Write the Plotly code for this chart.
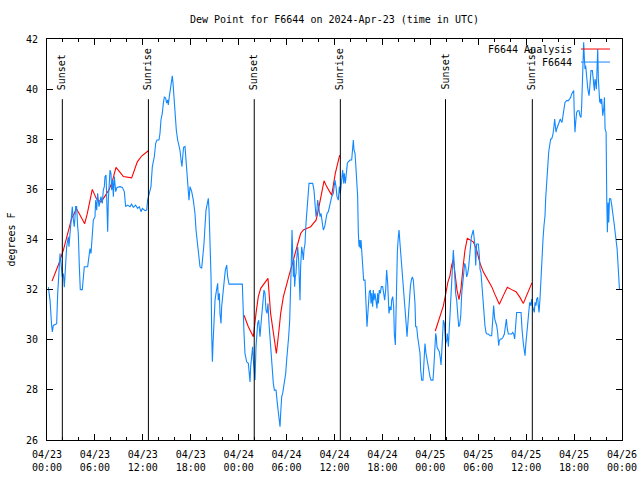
import pandas as pd
import plotly.graph_objects as go

BASE = pd.Timestamp("2024-04-23 00:00")

# ---- observed dew point F6644 (hours since 04/23 00:00 UTC, degrees F) ----
obs_hours_1 = [0.17,0.38,0.58,0.67,0.79,1.21,1.34,1.50,1.63,1.75,1.92,2.05,2.17,2.34,2.46,2.67,2.75,2.88,3.01,3.17,
               3.30,3.42,3.59,3.71,3.84,3.92,4.05,4.17,4.42,4.55,4.67,5.09,5.26,5.38,5.51,5.68,5.80,6.01,6.09,6.22,
               6.34,6.51,6.64,6.76,6.93,7.05,7.18,7.26,7.39,7.51,7.60,7.68,7.76,7.89,8.01,8.10,8.22,8.31,8.43,8.60,
               8.76,9.14,9.43,9.68,9.85,10.10,10.39,10.60,10.81,11.10,11.35,11.56,11.77,11.94,12.27,12.48,12.60,12.77,13.02,13.19,
               13.44,13.61,13.77,14.02,14.15,14.27,14.44,14.57,14.69,14.86,14.98,15.11,15.19,15.32,15.44,15.53,15.61,15.69,15.78,15.86,
               16.03,16.19,16.36,16.53,16.65,16.78,16.90,17.03,17.11,17.28,17.40,17.49,17.61,17.70,17.78]
obs_vals_1 = [32.10,31.57,30.57,30.31,30.57,30.64,31.84,32.64,33.44,33.04,32.51,32.64,32.10,33.04,33.71,34.11,33.71,34.24,34.91,35.31,
              34.77,34.51,35.31,35.31,34.51,34.24,32.91,32.00,32.00,32.64,32.91,32.91,33.44,33.64,33.44,34.11,34.77,34.91,35.57,35.17,
              35.84,35.31,35.57,35.71,35.44,35.97,36.11,36.51,36.57,35.04,34.31,35.57,36.37,36.77,36.64,35.97,36.37,35.71,36.51,35.91,
              36.08,36.11,36.08,35.91,35.31,35.37,35.31,35.41,35.28,35.37,35.24,35.31,35.11,35.24,35.15,35.17,35.57,35.77,36.11,36.91,
              37.31,37.84,37.97,37.97,38.24,38.77,39.04,39.44,39.68,39.64,39.44,39.57,39.37,39.71,39.97,40.11,40.37,40.53,40.24,39.84,
              39.04,38.37,37.97,37.71,37.57,37.17,36.91,37.44,37.68,37.71,37.17,36.51,36.11,35.71,35.57]

obs_hours_2 = [17.91,18.12,18.32,18.53,18.66,18.82,18.95,19.16,19.37,19.49,19.66,19.78,19.91,20.08,20.20,20.29,20.41,20.54,20.62,20.71,
               20.79,20.91,21.04,21.16,21.25,21.37,21.45,21.58,21.66,21.79,21.87,21.99,22.08,22.20,22.33,22.50,22.62,22.79,24.46,24.50,
               24.67,24.79,25.00,25.21,25.34,25.42,25.50,25.63,25.75,25.84,25.92,26.05,26.17,26.25,26.38,26.51,26.59,26.67,26.80,26.92,
               27.01,27.17,27.30,27.42,27.55,27.67,27.80,27.92,28.05,28.17,28.34,28.47,28.68,28.84,28.97,29.09,29.18,29.26,29.39,29.51,
               29.64,29.76,29.89,30.01,30.14,30.26,30.39,30.51,30.60,30.68,30.76,30.85,30.93,31.01,31.09,31.18,31.26,31.39,31.51,31.60,
               31.68,31.76,31.89,32.01,32.10,32.18,32.31,32.43,32.56,32.68,32.81,33.02,33.27,33.43,33.56,33.69,33.77,33.89,34.02,34.19,
               34.31,34.44,34.60,34.77,34.94,35.06,35.23,35.36,35.48,35.65,35.85]
obs_vals_2 = [36.11,35.91,35.57,35.04,34.38,33.84,33.45,32.91,32.85,33.18,33.84,34.51,35.17,35.44,35.64,35.17,34.11,32.51,30.25,29.12,
              29.85,30.92,31.58,31.85,32.12,32.25,31.58,31.85,31.05,30.65,31.32,31.85,31.98,32.38,32.78,32.98,32.51,32.22,32.22,31.58,
              30.25,29.45,29.12,29.06,28.59,28.32,28.92,29.32,29.72,29.19,28.79,28.39,29.72,30.12,30.65,30.78,30.12,30.12,30.65,31.18,
              31.58,31.98,31.85,31.18,31.05,31.45,30.65,30.12,29.59,28.79,28.26,27.99,27.99,27.46,27.06,26.79,26.53,27.06,27.73,27.86,
              28.12,28.39,28.66,29.19,29.59,30.12,30.78,31.85,33.18,34.38,33.45,32.51,33.18,32.12,32.51,32.65,33.18,33.71,33.18,32.38,
              31.58,32.91,33.71,33.45,33.18,33.58,33.84,34.64,35.31,35.71,36.24,36.24,36.24,35.97,35.31,34.91,35.04,35.57,35.31,34.91,
              35.04,34.77,34.38,34.51,34.77,35.04,35.11,35.31,35.57,35.71,35.84]

obs_hours_3 = [36.06,36.19,36.31,36.48,36.61,36.73,36.81,36.90,37.02,37.15,37.23,37.36,37.48,37.61,37.73,37.94,38.15,38.27,38.36,38.44,
               38.57,38.65,38.77,38.90,38.98,39.07,39.15,39.23,39.32,39.40,39.53,39.65,39.82,39.94,40.07,40.15,40.24,40.36,40.49,40.57,
               40.65,40.78,40.86,40.95,41.07,41.20,41.32,41.40,41.49,41.61,41.74,41.86,42.03,42.16,42.28,42.41,42.53,42.66,42.74,42.82,
               42.95,43.08,43.16,43.29,43.41,43.49,43.62,43.70,43.78,43.87,43.99,44.08,44.20,44.33,44.45,44.58,44.70,44.83,44.91,45.00,
               45.08,45.16,45.25,45.37,45.50,45.62,45.75,45.87,45.96,46.08,46.16,46.29,46.41,46.58,46.71,46.79,46.92,47.08,47.17,47.25,
               47.33,47.46,47.58,47.71,47.83,47.96,48.08,48.33,48.42,48.50,48.58,48.67,48.75,48.83,49.00,49.13,49.25,49.34,49.42,49.50,
               49.63,49.75,49.84,49.92,50.05,50.13,50.26,50.34,50.46,50.55,50.67,50.76,50.88,50.96,51.05,51.17,51.30,51.42,51.55,51.67,
               51.80,51.93,52.05,52.18,52.30,52.43,52.55,52.68,52.80,52.93,53.01,53.14,53.26,53.38]
obs_vals_3 = [36.37,36.11,35.71,35.57,36.11,35.84,36.11,36.50,36.77,36.24,36.64,36.24,36.64,37.04,37.10,37.17,37.17,37.70,37.97,37.57,
              37.44,37.04,36.50,35.71,34.31,33.71,33.98,33.64,33.98,33.45,32.78,32.38,32.38,31.58,30.52,30.92,31.58,31.92,31.98,31.45,
              31.85,31.32,31.98,31.58,31.85,31.58,31.25,31.85,31.45,31.98,31.85,32.12,32.12,31.85,31.58,31.98,32.78,32.25,31.58,31.05,
              31.32,31.18,31.58,31.72,31.32,30.25,29.79,31.32,32.51,33.51,34.11,34.38,33.84,33.31,32.78,32.25,31.98,31.58,31.18,30.52,
              30.12,30.52,31.05,31.58,32.12,32.38,32.51,32.38,31.98,31.45,30.52,30.52,30.12,29.72,29.45,28.79,28.39,28.39,28.79,29.45,
              29.85,29.45,29.19,28.99,28.79,28.52,28.39,28.39,28.79,29.45,29.85,30.25,30.12,29.72,29.59,29.52,29.26,28.99,29.45,29.99,
              30.78,30.65,30.25,29.85,29.99,30.25,29.72,30.25,30.78,31.85,32.65,33.18,33.58,33.18,32.38,31.85,31.58,31.05,30.52,30.59,
              30.92,31.85,32.38,32.65,33.05,32.91,32.51,32.65,32.91,33.45,33.71,34.11,34.24,34.38]

obs_hours_4 = [53.59,53.68,53.80,54.01,54.14,54.22,54.34,54.47,54.59,54.72,54.84,54.97,55.09,55.26,55.47,55.68,55.81,55.93,56.06,56.18,
               56.31,56.43,56.56,56.64,56.77,56.93,57.10,57.27,57.39,57.52,57.64,57.77,57.98,58.18,58.31,58.44,58.56,58.69,58.81,59.02,
               59.36,59.48,59.56,59.65,59.77,59.86,59.94,60.07,60.19,60.32,60.44,60.57,60.69,60.77,60.90,61.02,61.11,61.23,61.31,61.44,
               61.52,61.61,61.73,61.86,61.98,62.11,62.23,62.36,62.44,62.57,62.69,62.82,62.94,63.07,63.19,63.32,63.45,63.57,63.65,63.74,
               63.82,63.95,64.07,64.15,64.28,64.36,64.49,64.61,64.74,64.86,65.07,65.28,65.45,65.57,65.70,65.82,65.95,66.03,66.11,66.20,
               66.32,66.45,66.62,66.74,66.87,66.95,67.04,67.12,67.20,67.29,67.37,67.45,67.54,67.62,67.70,67.79,67.87,67.95,68.04,68.12,
               68.29,68.37,68.46,68.54,68.62,68.71,68.79,68.87,68.96,69.04,69.13,69.21,69.29,69.38,69.46,69.59,69.71,69.80,69.88,70.01,
               70.09,70.17,70.26,70.34,70.43,70.59,70.72,70.84,70.97,71.05,71.14,71.26,71.39,71.51,71.60,71.68]
obs_vals_4 = [33.75,32.96,33.82,33.82,33.35,32.82,32.69,32.02,31.49,30.96,30.56,30.29,30.23,30.23,30.16,30.16,30.96,31.36,30.83,30.69,
              30.56,30.29,29.76,29.96,30.03,30.03,30.10,30.23,30.56,30.83,30.43,30.23,30.23,30.23,30.29,30.23,30.03,30.43,31.09,31.09,
              31.09,30.43,29.96,29.83,29.56,29.36,29.76,30.29,30.83,31.23,31.49,31.36,31.62,31.36,31.23,31.09,31.49,31.36,31.62,31.69,
              31.36,31.09,31.62,32.69,33.49,34.02,34.55,34.95,35.62,36.41,36.95,37.48,37.74,38.01,38.01,38.14,38.41,38.81,38.54,38.28,
              38.41,38.54,38.67,38.67,38.81,38.74,38.67,38.94,39.34,39.47,39.54,39.54,39.61,39.67,39.81,39.87,39.94,38.94,38.28,38.67,
              39.07,39.14,39.14,38.94,38.87,39.34,40.40,41.47,41.87,41.20,40.80,40.94,40.54,40.27,40.07,39.87,39.74,40.00,40.47,40.74,
              40.74,40.40,40.14,39.94,40.40,40.27,40.00,41.60,41.60,40.40,39.74,39.47,39.61,39.41,39.61,38.94,39.21,39.67,38.41,38.28,
              35.62,34.29,35.48,34.68,35.62,35.62,35.35,34.95,34.82,34.55,34.29,34.02,33.62,32.96,32.42,32.02]

# ---- analysis (night-time segments) ----
ana_hours_1 = [0.63,1.42,2.05,2.46,2.80,3.09,3.42,3.67,4.13,4.72,5.05,5.38,5.67,6.20,6.76,7.30,7.80,8.20,8.64,9.10,
               9.56,10.60,10.94,11.31,11.85,12.69]
ana_vals_1 = [32.34,32.98,33.58,34.05,34.51,34.85,35.04,35.24,34.98,34.63,35.04,35.51,36.00,35.62,35.50,35.75,36.00,36.35,36.88,36.70,
              36.51,36.46,36.77,37.10,37.33,37.54]
ana_hours_2 = [24.67,25.21,25.63,25.84,26.17,26.46,26.76,27.17,27.67,28.00,28.26,28.55,28.72,29.05,29.26,29.60,30.01,30.43,30.68,30.93,
               31.18,31.47,31.76,32.10,32.52,33.02,33.35,33.69,33.89,34.19,34.44,34.69,35.02,35.36,35.65,36.10,36.35,36.65]
ana_vals_2 = [30.98,30.52,30.25,30.12,31.05,31.72,32.05,32.25,32.45,31.05,30.39,29.85,29.45,30.39,31.05,31.72,32.25,32.71,32.98,33.31,
              33.58,33.91,34.24,34.38,34.44,34.51,34.64,34.77,35.04,35.57,36.04,36.34,36.11,35.91,35.77,36.64,37.04,37.37]
ana_hours_3 = [48.62,49.00,49.34,49.63,49.92,50.20,50.45,50.67,50.88,51.17,51.34,51.59,51.84,52.10,52.34,52.63,53.00,53.38,53.80,54.22,
               54.63,55.06,55.68,56.10,56.64,57.14,57.64,58.18,58.73,59.20,59.65,60.10,60.72]
ana_vals_3 = [30.35,30.70,31.00,31.35,31.82,32.30,32.55,32.98,33.20,32.40,31.98,31.60,32.05,32.91,33.58,34.05,33.98,33.91,33.58,33.05,
              32.71,32.45,32.12,31.80,31.42,31.76,32.09,32.00,31.92,31.70,31.45,31.80,32.27]

# ---- sun events (hours since 04/23 00:00 UTC) ----
sun_labels = ["Sunset", "Sunrise", "Sunset", "Sunrise", "Sunset", "Sunrise"]
sun_hours = [1.92, 12.70, 25.95, 36.73, 49.90, 60.77]

title_text = "Dew Point for F6644 on 2024-Apr-23 (time in UTC)"
legend_names = ["F6644 Analysis", "F6644"]
RED = "#ff0000"
BLUE = "#1188ff"
FONT = "DejaVu Sans Mono"


def to_time(hours):
    return BASE + pd.to_timedelta(pd.Series(hours, dtype=float), unit="h")


fig = go.Figure()
for hrs, vals in [(ana_hours_1, ana_vals_1), (ana_hours_2, ana_vals_2), (ana_hours_3, ana_vals_3)]:
    fig.add_trace(go.Scatter(x=to_time(hrs), y=vals, mode="lines",
                             line=dict(color=RED, width=1.1), showlegend=False,
                             name=legend_names[0]))
obs_h = obs_hours_1 + obs_hours_2 + obs_hours_3 + obs_hours_4
obs_v = obs_vals_1 + obs_vals_2 + obs_vals_3 + obs_vals_4
fig.add_trace(go.Scatter(x=to_time(obs_h), y=obs_v, mode="lines",
                         line=dict(color=BLUE, width=1.1), showlegend=False,
                         name=legend_names[1]))

sun_times = to_time(sun_hours)
for lab, t in zip(sun_labels, sun_times):
    fig.add_shape(type="line", xref="x", yref="paper", x0=t, x1=t, y0=0, y1=0.85,
                  line=dict(color="black", width=1), layer="above")
    fig.add_annotation(x=t, xref="x", y=0.868, yref="paper", text=lab, textangle=-90,
                       showarrow=False, xanchor="center", yanchor="bottom",
                       font=dict(family=FONT, size=10, color="black"))

# legend drawn gnuplot style (text right-aligned, sample on the right)
for i, (name, col) in enumerate(zip(legend_names, [RED, BLUE])):
    yy = 0.975 - i * 0.0325
    fig.add_annotation(x=0.9165, y=yy, xref="paper", yref="paper", text=name,
                       showarrow=False, xanchor="right", yanchor="middle",
                       font=dict(family=FONT, size=10, color="black"))
    fig.add_shape(type="line", xref="paper", yref="paper", x0=0.9287, x1=0.979,
                  y0=yy, y1=yy, line=dict(color=col, width=1))

axis_common = dict(showline=True, linecolor="black", linewidth=1, mirror="allticks",
                   ticks="inside", ticklen=6, tickcolor="black", tickwidth=1,
                   showgrid=False, zeroline=False, automargin=False,
                   tickfont=dict(family=FONT, size=10, color="black"))

fig.update_layout(
    width=640, height=480,
    margin=dict(l=47, r=18, t=39, b=40),
    paper_bgcolor="white", plot_bgcolor="white",
    font=dict(family=FONT, size=10, color="black"),
    title=dict(text=title_text, x=0.5, xref="paper", xanchor="center",
               y=1 - 19 / 480, yref="container", yanchor="middle",
               font=dict(family=FONT, size=10, color="black")),
    xaxis=dict(type="date", range=[BASE, BASE + pd.Timedelta(hours=72)],
               tick0=BASE, dtick=6 * 3600 * 1000, tickformat="%m/%d<br>%H:%M",
               ticklabelstandoff=5,
               minor=dict(dtick=2 * 3600 * 1000, ticks="inside", ticklen=3,
                          tickcolor="black", showgrid=False),
               **axis_common),
    yaxis=dict(range=[26, 42], dtick=2, ticklabelstandoff=6,
               title=dict(text="degrees F", standoff=8,
                          font=dict(family=FONT, size=10, color="black")),
               **axis_common),
)

fig.write_html("out.html", config={"displayModeBar": False},
               post_script="document.body.style.margin='0';")
